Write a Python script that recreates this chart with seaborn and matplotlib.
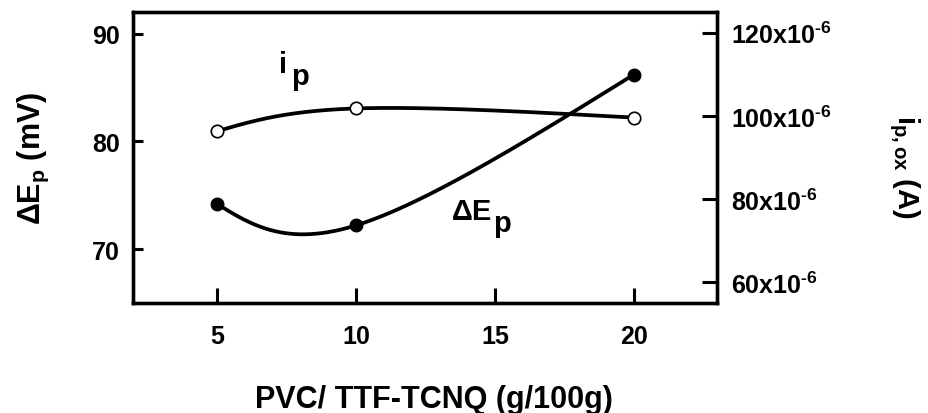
import numpy as np
import pandas as pd
import matplotlib
matplotlib.use("Agg")
import matplotlib.pyplot as plt
import seaborn as sns

# data
pvc = [5, 10, 20]                      # PVC / TTF-TCNQ (g/100g)
delta_ep = [74.2, 72.2, 86.2]          # peak separation (mV)
ip_ox = [96.3e-6, 101.8e-6, 99.6e-6]   # oxidation peak current (A)

ep_ticks = [70, 80, 90]
ip_ticks = [60e-6, 80e-6, 100e-6, 120e-6]
ip_tick_labels = [r"$\mathbf{60x10}^{\text{-}\mathbf{6}}$",
                  r"$\mathbf{80x10}^{\text{-}\mathbf{6}}$",
                  r"$\mathbf{100x10}^{\text{-}\mathbf{6}}$",
                  r"$\mathbf{120x10}^{\text{-}\mathbf{6}}$"]
x_ticks = [5, 10, 15, 20]

sns.set_style("white")
plt.rcParams["font.family"] = ["Liberation Sans", "DejaVu Sans"]
plt.rcParams["font.weight"] = "bold"
plt.rcParams["text.color"] = "black"
plt.rcParams["xtick.color"] = "black"
plt.rcParams["ytick.color"] = "black"
plt.rcParams["axes.labelcolor"] = "black"
plt.rcParams["mathtext.fontset"] = "custom"
plt.rcParams["mathtext.rm"] = "Liberation Sans:bold"
plt.rcParams["mathtext.bf"] = "Liberation Sans:bold"
plt.rcParams["mathtext.it"] = "Liberation Sans:bold"


def spline(xs, ys, num=300):
    """parametric natural cubic spline through the points (uniform parameter)"""
    n = len(xs)

    def second_derivs(v):
        A = np.zeros((n, n))
        b = np.zeros(n)
        A[0, 0] = A[-1, -1] = 1
        for i in range(1, n - 1):
            A[i, i - 1], A[i, i], A[i, i + 1] = 1, 4, 1
            b[i] = 6 * (v[i + 1] - 2 * v[i] + v[i - 1])
        return np.linalg.solve(A, b)

    def evaluate(v, M, tt):
        out = []
        for t in tt:
            i = min(int(t), n - 2)
            u = t - i
            out.append((1 - u) * v[i] + u * v[i + 1]
                       + ((1 - u) ** 3 - (1 - u)) * M[i] / 6
                       + (u ** 3 - u) * M[i + 1] / 6)
        return np.array(out)

    xs = np.asarray(xs, float)
    ys = np.asarray(ys, float)
    tt = np.linspace(0, n - 1, num)
    return evaluate(xs, second_derivs(xs), tt), evaluate(ys, second_derivs(ys), tt)


fig = plt.figure(figsize=(9.29, 4.14), dpi=100)
ax = fig.add_axes([0.1437, 0.2657, 0.6285, 0.7029])
ax2 = ax.twinx()

# delta Ep curve (left axis)
cx, cy = spline(pvc, delta_ep)
sns.lineplot(x=cx, y=cy, ax=ax, color="black", linewidth=2.7, sort=False,
             estimator=None)
sns.scatterplot(x=pvc, y=delta_ep, ax=ax, color="black", s=85,
                edgecolor="black", linewidth=0.8, zorder=5)

# ip curve (right axis)
cx2, cy2 = spline(pvc, ip_ox)
sns.lineplot(x=cx2, y=cy2, ax=ax2, color="black", linewidth=2.7, sort=False,
             estimator=None)
sns.scatterplot(x=pvc, y=ip_ox, ax=ax2, color="white", s=80,
                edgecolor="black", linewidth=1.2, zorder=5)

ax.set_xlim(2, 23)
ax.set_ylim(65, 92)
ax2.set_ylim(55e-6, 125e-6)

ax.set_xticks(x_ticks)
ax.set_xticklabels([str(v) for v in x_ticks])
ax.set_yticks(ep_ticks)
ax.set_yticklabels([str(v) for v in ep_ticks])
ax2.set_yticks(ip_ticks)
ax2.set_yticklabels(ip_tick_labels)

for a in (ax, ax2):
    for s in a.spines.values():
        s.set_linewidth(2.4)
        s.set_color("black")

ax.tick_params(axis="y", direction="in", length=7, width=2.2, labelsize=18,
               pad=10, left=True)
ax.tick_params(axis="x", direction="in", length=11, width=2.2, labelsize=18,
               pad=15, bottom=True)
ax2.tick_params(axis="y", direction="in", length=11, width=2.2, labelsize=18,
                pad=10, right=True)

ax.set_xlabel("")
ax.set_ylabel("")
ax2.set_ylabel("")

fig.text(0.467, 0.0152, "PVC/ TTF-TCNQ (g/100g)", fontsize=22,
         fontweight="bold", ha="center", va="baseline")
fig.text(40 / 929, 1 - 158 / 414, r"ΔE$_\mathbf{p}$ (mV)", fontsize=22,
         fontweight="bold", rotation=90, rotation_mode="anchor",
         ha="center", va="baseline")
fig.text(898 / 929, 1 - 167 / 414, r"i$_\mathbf{p,ox}$ (A)", fontsize=21,
         fontweight="bold", rotation=270, rotation_mode="anchor",
         ha="center", va="baseline")

# curve labels
ax.text(7.25, 86.4, "i", fontsize=21, fontweight="bold", ha="left", va="baseline")
ax.text(7.66, 85.3, "p", fontsize=21, fontweight="bold", ha="left", va="baseline")
ax.text(13.44, 72.8, "ΔE", fontsize=21, fontweight="bold", ha="left", va="baseline")
ax.text(14.92, 71.7, "p", fontsize=21, fontweight="bold", ha="left", va="baseline")

fig.savefig("out.png", dpi=100)
